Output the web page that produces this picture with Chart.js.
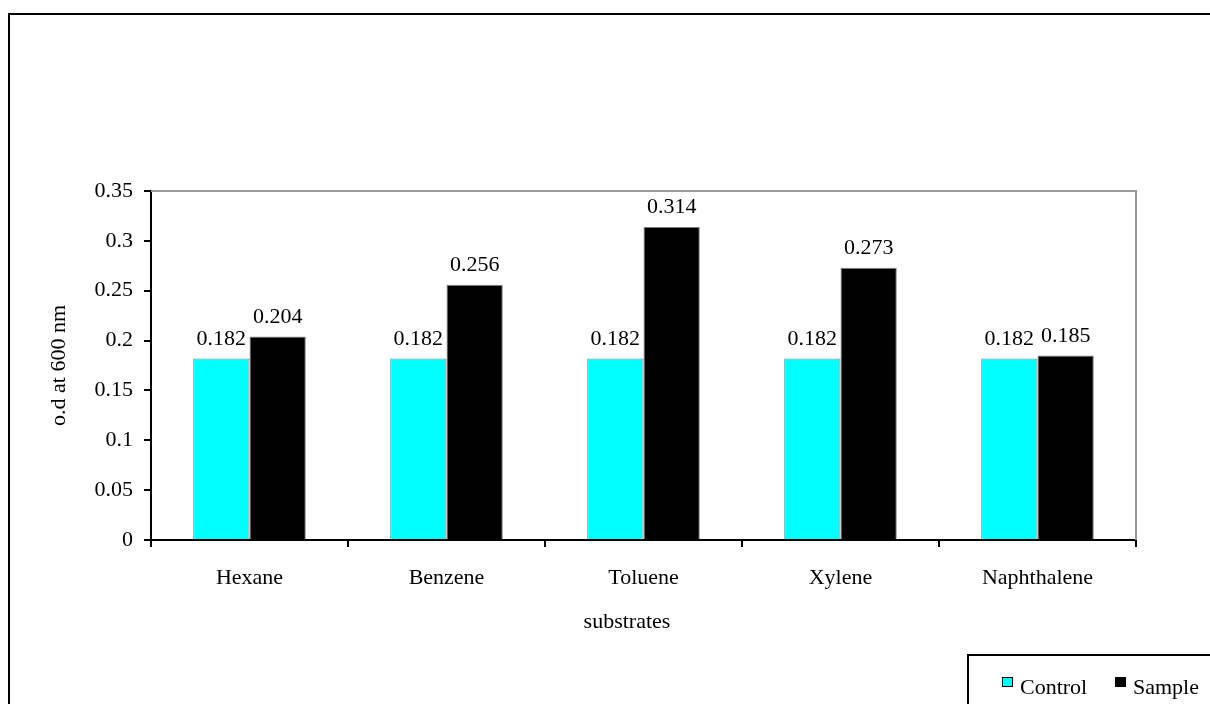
<!DOCTYPE html>
<html lang="en">
<head>
  <meta charset="UTF-8">
  <title>o.d at 600 nm by substrate</title>
  <script src="https://cdn.jsdelivr.net/npm/chart.js"></script>
  <style>
    body {
      margin: 0;
      background: #fff;
    }
    #wrap {
      width: 1210px;
      height: 704px;
    }
  </style>
</head>
<body>
  <div id="wrap">
    <canvas id="odChart" width="1210" height="704"></canvas>
  </div>

  <script>
    const substrates = ['Hexane', 'Benzene', 'Toluene', 'Xylene', 'Naphthalene'];
    const controlValues = [0.182, 0.182, 0.182, 0.182, 0.182];
    const sampleValues = [0.204, 0.256, 0.314, 0.273, 0.185];
    const yTicks = [0, 0.05, 0.1, 0.15, 0.2, 0.25, 0.3, 0.35];
    const yTickLabels = ['0', '0.05', '0.1', '0.15', '0.2', '0.25', '0.3', '0.35'];
    const xTitle = 'substrates';

    const serif = "'Liberation Serif', 'Times New Roman', serif";
    const fontSize = 22;

    // frame, plot border, value labels, x title and the boxed legend
    const decorations = {
      id: 'decorations',
      beforeDraw(chart) {
        const ctx = chart.ctx;
        ctx.save();
        ctx.fillStyle = '#fff';
        ctx.fillRect(0, 0, chart.width, chart.height);
        ctx.strokeStyle = '#000';
        ctx.lineWidth = 2;
        ctx.strokeRect(9, 14, 1300, 800);
        ctx.restore();
      },
      afterDatasetsDraw(chart) {
        const ctx = chart.ctx;
        const area = chart.chartArea;
        ctx.save();
        ctx.strokeStyle = '#999';
        ctx.lineWidth = 2;
        ctx.beginPath();
        ctx.moveTo(area.left, area.top);
        ctx.lineTo(area.right, area.top);
        ctx.lineTo(area.right, area.bottom);
        ctx.stroke();

        ctx.fillStyle = '#000';
        ctx.font = fontSize + 'px ' + serif;
        ctx.textAlign = 'center';
        ctx.textBaseline = 'alphabetic';
        chart.data.datasets.forEach((ds, i) => {
          chart.getDatasetMeta(i).data.forEach((bar, j) => {
            ctx.fillText(String(ds.data[j]), bar.x, bar.y - 14);
          });
        });

        // axis title sits a little left of the plot centre in the original
        ctx.textBaseline = 'middle';
        ctx.fillText(xTitle, 627, 622);

        // legend box
        ctx.textBaseline = 'alphabetic';
        ctx.strokeStyle = '#000';
        ctx.lineWidth = 2;
        ctx.strokeRect(968, 655, 400, 200);
        const items = [{ x: 1002, tx: 1020 }, { x: 1115, tx: 1133 }];
        chart.data.datasets.forEach((ds, i) => {
          const it = items[i];
          ctx.fillStyle = ds.backgroundColor;
          ctx.fillRect(it.x, 677, 10, 9);
          ctx.strokeStyle = '#000';
          ctx.lineWidth = 1;
          ctx.strokeRect(it.x + 0.5, 677.5, 10, 9);
          ctx.fillStyle = '#000';
          ctx.textAlign = 'left';
          ctx.fillText(ds.label, it.tx, 694);
        });
        ctx.restore();
      }
    };

    const ctx = document.getElementById('odChart').getContext('2d');
    new Chart(ctx, {
      type: 'bar',
      data: {
        labels: substrates,
        datasets: [{
          label: 'Control',
          data: controlValues,
          backgroundColor: '#00ffff',
          borderColor: '#808080',
          borderWidth: 1
        }, {
          label: 'Sample',
          data: sampleValues,
          backgroundColor: '#000000',
          borderColor: '#808080',
          borderWidth: 1
        }]
      },
      options: {
        responsive: false,
        animation: false,
        layout: {
          padding: { top: 191, right: 74, left: 0, bottom: 0 }
        },
        categoryPercentage: 2 / 3.5,
        barPercentage: 1,
        plugins: {
          legend: { display: false },
          tooltip: { enabled: false }
        },
        scales: {
          x: {
            afterFit(scale) { scale.height = 164; },
            grid: {
              drawOnChartArea: false,
              drawTicks: true,
              tickLength: 7,
              color: '#000',
              lineWidth: 2
            },
            border: { color: '#000', width: 2 },
            ticks: {
              color: '#000',
              padding: 18,
              font: { family: serif, size: fontSize }
            }
          },
          y: {
            min: 0,
            max: 0.35,
            afterFit(scale) { scale.width = 151; },
            afterBuildTicks(scale) {
              scale.ticks = yTicks.map(v => ({ value: v }));
            },
            grid: {
              drawOnChartArea: false,
              drawTicks: true,
              tickLength: 7,
              color: '#000',
              lineWidth: 2
            },
            border: { color: '#000', width: 2 },
            ticks: {
              color: '#000',
              padding: 11,
              font: { family: serif, size: fontSize },
              callback: (v, i) => yTickLabels[i]
            },
            title: {
              display: true,
              text: 'o.d at 600 nm',
              color: '#000',
              font: { family: serif, size: fontSize },
              padding: { top: 46, bottom: 0 }
            }
          }
        }
      },
      plugins: [decorations]
    });
  </script>
</body>
</html>
